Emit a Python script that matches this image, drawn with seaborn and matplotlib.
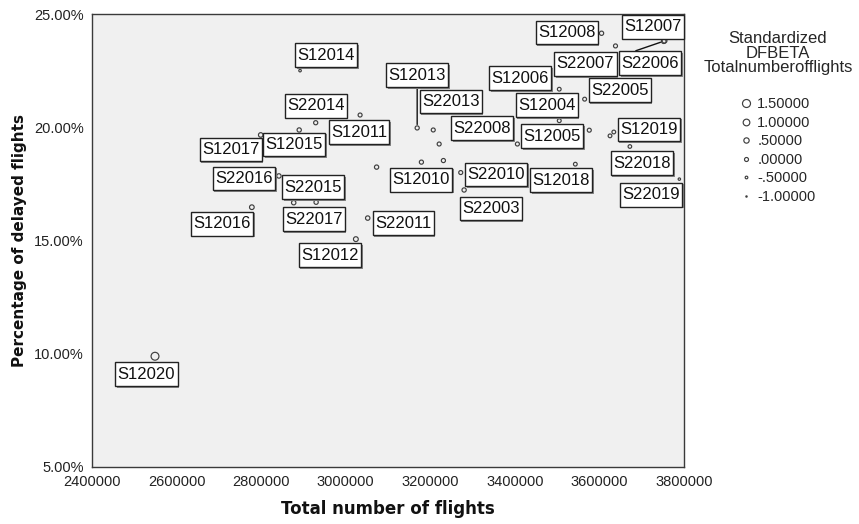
import matplotlib
matplotlib.use("Agg")
import matplotlib.pyplot as plt
import matplotlib.patheffects as pe
from matplotlib.lines import Line2D
import seaborn as sns
import numpy as np
import pandas as pd

# ---------------- data ----------------
labels = ["S12020", "S12016", "S22016", "S12017", "S12015", "S22014", "S12014",
          "S22015", "S22017", "S12012", "S22011", "S12011", "S12013", "S22013",
          "", "S12010", "", "", "S22010", "S22003", "S22008", "S12006",
          "S12004", "S12005", "S22005", "S12008", "S22007", "S12007", "S22006",
          "S12019", "", "S22018", "S12018", "S22019"]
total_flights = [2549000, 2778000, 2842000, 2799000, 2890000, 2929000, 2892000,
                 2877000, 2930000, 3024000, 3052000, 3034000, 3169000, 3207000,
                 3221000, 3179000, 3231000, 3073000, 3272000, 3280000, 3406000, 3505000,
                 3505000, 3576000, 3565000, 3605000, 3638000, 3754000, 3752000,
                 3634000, 3625000, 3672000, 3543000, 3789000]
pct_delayed = [9.89, 16.47, 17.85, 19.66, 19.88, 20.20, 22.50,
               16.67, 16.69, 15.06, 15.99, 20.54, 19.97, 19.88,
               19.26, 18.46, 18.53, 18.24, 18.00, 17.23, 19.26, 21.68,
               20.29, 19.87, 21.24, 24.15, 23.59, 23.82, 23.80,
               19.79, 19.62, 19.15, 18.37, 17.71]
dfbeta = [1.45, 0.25, 0.15, 0.20, 0.10, 0.05, -0.55,
          0.15, 0.10, 0.30, 0.15, 0.00, 0.05, 0.00,
          0.00, 0.05, 0.05, 0.10, 0.00, 0.10, 0.00, -0.10,
          -0.05, 0.00, -0.05, 0.10, 0.00, 0.30, 0.25,
          -0.10, -0.10, -0.15, -0.10, -0.60]
legend_values = [1.5, 1.0, 0.5, 0.0, -0.5, -1.0]
legend_texts = ["1.50000", "1.00000", ".50000", ".00000", "-.50000", "-1.00000"]
x_ticks = [2400000, 2600000, 2800000, 3000000, 3200000, 3400000, 3600000, 3800000]
y_ticks = [5, 10, 15, 20, 25]

# label offsets (pixels, relative to the point) -- layout only
label_dx = [-8.5, -30, -35, -30, -5, 0, 26,
            19.5, -2.5, -26, 35.5, -1, 0, 17.5,
            0, 0, 0, 0, 35.5, 26.5, -35, -39,
            -12.5, -37, 35, -35, -30, -12, -13.5,
            35, 0, 12, -14, -28]
label_dy = [-18, -16.5, -2.5, -14.5, -14.5, 17, 15.5,
            15.5, -17, -16, -5, -17, 52.5, 28.5,
            0, -17.5, 0, 0, -2, -18.5, 16, 11,
            15.5, -6, 9, 0.7, -18, 14, -22,
            2.5, 0, -16.5, -16, -15.5]
leader = {"S12013": (0.5, 0.0), "S22006": (0.0, 1.0)}

df = pd.DataFrame({"flights": total_flights, "delay": pct_delayed,
                   "dfbeta": dfbeta, "label": labels})

# ---------------- style ----------------
sns.set_style("white")
plt.rcParams["font.family"] = ["Liberation Sans", "DejaVu Sans"]

W, H, DPI = 859, 524, 100
fig = plt.figure(figsize=(W / DPI, H / DPI), dpi=DPI)
ax = fig.add_axes([92 / W, 1 - 467 / H, (684 - 92) / W, (467 - 14) / H])
ax.set_facecolor("#F0F0F0")


def diam(v):
    # marker path diameter in points
    return (4.0 + 2.667 * v) * 0.72


size_map = {v: diam(v) ** 2 for v in sorted(set(dfbeta))}
edge = "#3f3f3f"

sns.scatterplot(data=df, x="flights", y="delay", size="dfbeta", sizes=size_map,
                legend=False, ax=ax, marker="o", facecolor="none",
                edgecolor=edge, linewidth=0.85, zorder=3)
for coll in ax.collections:
    coll.set_facecolor("none")
    coll.set_edgecolor(edge)

# labels
for i, row in df.iterrows():
    if not row["label"]:
        continue
    arrow = None
    if row["label"] in leader:
        arrow = dict(arrowstyle="-", color="#111", lw=1.0, shrinkA=0, shrinkB=2.5,
                     relpos=leader[row["label"]])
    t = ax.annotate(row["label"], xy=(row["flights"], row["delay"]),
                    xytext=(label_dx[i], label_dy[i]), textcoords="offset pixels",
                    ha="center", va="center", fontsize=12, color="#111",
                    bbox=dict(boxstyle="square,pad=0.14", fc="white", ec="#222", lw=1.0),
                    arrowprops=arrow, zorder=5)
    patch = t.get_bbox_patch()
    patch.set_mutation_aspect(1.9)
    patch.set_path_effects(
        [pe.SimplePatchShadow(offset=(1.2, -1.2), shadow_rgbFace="#888", alpha=1.0),
         pe.Normal()])

ax.set_xlim(2400000, 3800000)
ax.set_ylim(5, 25)
ax.set_xticks(x_ticks)
ax.set_xticklabels([str(v) for v in x_ticks])
ax.set_yticks(y_ticks)
ax.set_yticklabels([f"{v:.2f}%" for v in y_ticks])
ax.tick_params(axis="both", direction="out", length=5, width=1, color="#333",
               labelsize=10.5, labelcolor="#222", pad=1)
for s in ax.spines.values():
    s.set_color("#3a3a3a")
    s.set_linewidth(1.0)

ax.set_xlabel("Total number of flights", fontsize=12, fontweight="bold",
              family="DejaVu Sans", color="#111", labelpad=8)
ax.set_ylabel("Percentage of delayed flights", fontsize=11, fontweight="bold",
              family="DejaVu Sans", color="#111", labelpad=5)

# legend
handles = [Line2D([], [], linestyle="none", marker="o", markersize=diam(v),
                  markerfacecolor="none", markeredgecolor=edge, markeredgewidth=0.85)
           for v in legend_values]
leg = fig.legend(handles, legend_texts, loc="upper center",
                 bbox_to_anchor=(778 / W, 1 - 24 / H), frameon=False,
                 title="Standardized\nDFBETA\nTotalnumberofflights",
                 fontsize=10.5, title_fontsize=12, handlelength=0.8,
                 handletextpad=0.35, labelspacing=0.31, borderpad=0)
leg.get_title().set_linespacing(0.95)
leg.get_title().set_multialignment("center")
leg._legend_box.align = "center"
leg._legend_box.sep = 16

fig.savefig("out.png", dpi=DPI, facecolor="white")
